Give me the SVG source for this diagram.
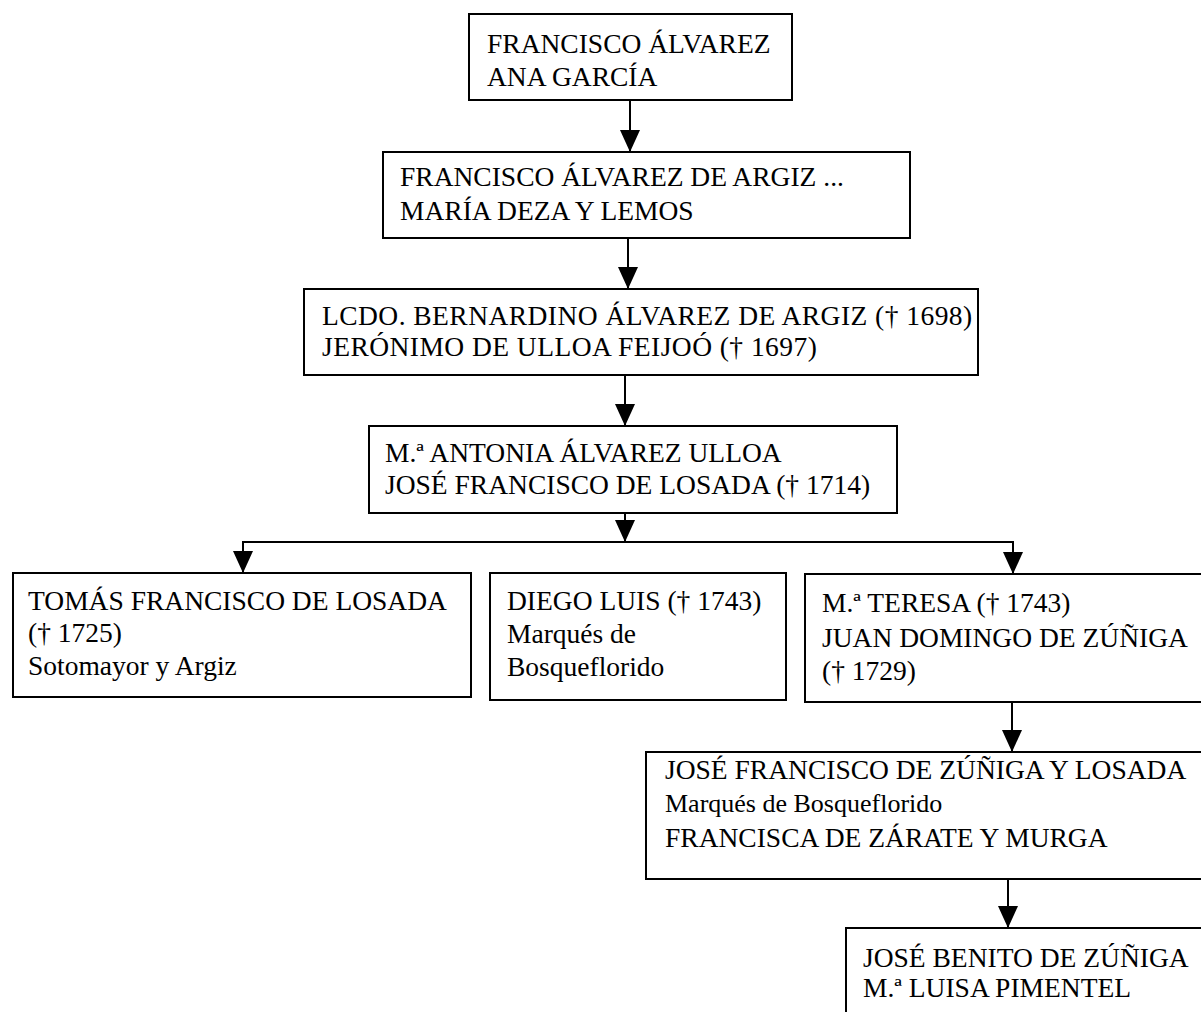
<svg xmlns="http://www.w3.org/2000/svg" width="1201" height="1012" viewBox="0 0 1201 1012">
<style>
  .box { fill: #ffffff; stroke: #000000; stroke-width: 2; }
  .t { font-family: "Liberation Serif", "Times New Roman", serif; font-size: 27.5px; fill: #000000; }
  .s { font-size: 26px; }
  .w { letter-spacing: 0.45px; }
  .c { fill: none; stroke: #000000; stroke-width: 2; }
</style>
<defs>
  <marker id="ah" markerUnits="userSpaceOnUse" markerWidth="22" markerHeight="20" refX="22" refY="10" orient="auto">
    <path d="M0,0 L22,10 L0,20 Z" fill="#000000"/>
  </marker>
</defs>
<rect width="1201" height="1012" fill="#ffffff"/>

<g id="connectors">
  <line class="c" x1="630" y1="100" x2="630" y2="152" marker-end="url(#ah)"/>
  <line class="c" x1="628" y1="238" x2="628" y2="289" marker-end="url(#ah)"/>
  <line class="c" x1="625" y1="375" x2="625" y2="426" marker-end="url(#ah)"/>
  <line class="c" x1="625" y1="513" x2="625" y2="542" marker-end="url(#ah)"/>
  <line class="c" x1="242" y1="542" x2="1014" y2="542"/>
  <line class="c" x1="243" y1="541" x2="243" y2="573" marker-end="url(#ah)"/>
  <line class="c" x1="1013" y1="541" x2="1013" y2="574" marker-end="url(#ah)"/>
  <line class="c" x1="1012" y1="702" x2="1012" y2="752" marker-end="url(#ah)"/>
  <line class="c" x1="1008" y1="879" x2="1008" y2="928" marker-end="url(#ah)"/>
</g>

<g id="n1">
  <rect class="box" x="469" y="14" width="323" height="86"/>
  <text class="t" x="487" y="53">FRANCISCO ÁLVAREZ</text>
  <text class="t" x="487" y="86">ANA GARCÍA</text>
</g>
<g id="n2">
  <rect class="box" x="383" y="152" width="527" height="86"/>
  <text class="t" x="400" y="186">FRANCISCO ÁLVAREZ DE ARGIZ ...</text>
  <text class="t" x="400" y="220">MARÍA DEZA Y LEMOS</text>
</g>
<g id="n3">
  <rect class="box" x="304" y="289" width="674" height="86"/>
  <text class="t w" x="322" y="325">LCDO. BERNARDINO ÁLVAREZ DE ARGIZ († 1698)</text>
  <text class="t w" x="322" y="356">JERÓNIMO DE ULLOA FEIJOÓ († 1697)</text>
</g>
<g id="n4">
  <rect class="box" x="369" y="426" width="528" height="87"/>
  <text class="t" x="385" y="462">M.ª ANTONIA ÁLVAREZ ULLOA</text>
  <text class="t" x="385" y="494">JOSÉ FRANCISCO DE LOSADA († 1714)</text>
</g>
<g id="n5">
  <rect class="box" x="13" y="573" width="458" height="124"/>
  <text class="t" x="28" y="610">TOMÁS FRANCISCO DE LOSADA</text>
  <text class="t" x="28" y="642">(† 1725)</text>
  <text class="t" x="28" y="675">Sotomayor y Argiz</text>
</g>
<g id="n6">
  <rect class="box" x="490" y="573" width="296" height="127"/>
  <text class="t" x="507" y="610">DIEGO LUIS († 1743)</text>
  <text class="t" x="507" y="643">Marqués de</text>
  <text class="t" x="507" y="676">Bosqueflorido</text>
</g>
<g id="n7">
  <rect class="box" x="805" y="574" width="400" height="128"/>
  <text class="t" x="822" y="612">M.ª TERESA († 1743)</text>
  <text class="t" x="822" y="647">JUAN DOMINGO DE ZÚÑIGA</text>
  <text class="t" x="822" y="680">(† 1729)</text>
</g>
<g id="n8">
  <rect class="box" x="646" y="752" width="559" height="127"/>
  <text class="t" x="665" y="779">JOSÉ FRANCISCO DE ZÚÑIGA Y LOSADA</text>
  <text class="t s" x="665" y="812">Marqués de Bosqueflorido</text>
  <text class="t" x="665" y="847">FRANCISCA DE ZÁRATE Y MURGA</text>
</g>
<g id="n9">
  <rect class="box" x="846" y="928" width="359" height="90"/>
  <text class="t" x="863" y="967">JOSÉ BENITO DE ZÚÑIGA</text>
  <text class="t" x="863" y="997">M.ª LUISA PIMENTEL</text>
</g>
</svg>
